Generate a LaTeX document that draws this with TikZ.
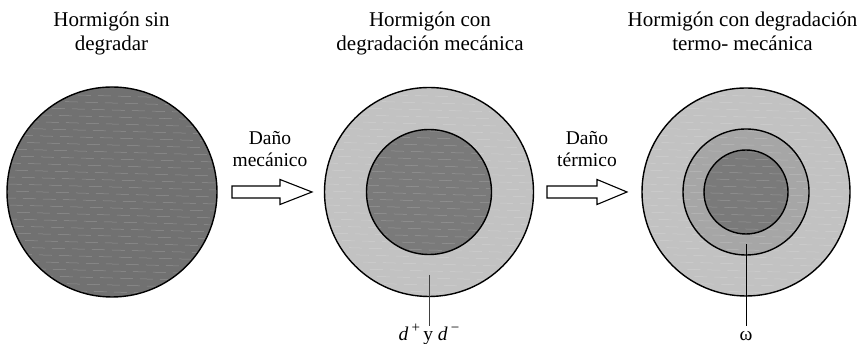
\documentclass[tikz,border=0pt]{standalone}
\usepackage{fontspec}
\setmainfont{Liberation Serif}
\definecolor{darkfill}{HTML}{717171}
\definecolor{lightfill}{HTML}{C2C2C2}
\definecolor{midfill}{HTML}{A6A6A6}
\definecolor{innerfill}{HTML}{7A7A7A}
\definecolor{ptrgray}{HTML}{404040}
\tikzset{
  disc/.style={circle, draw=black, line width=1.4pt, inner sep=0pt, minimum size=#1},
  titletext/.style={font=\fontsize{21}{24}\selectfont, anchor=base, inner sep=0pt},
  dmgtext/.style={font=\fontsize{19.5}{22}\selectfont, anchor=base, inner sep=0pt},
  blockarrow/.style={draw=black, line width=1.1pt, fill=white, line join=miter},
  pointer/.style={draw=#1, line width=0.9pt},
  ptrlabel/.style={font=\fontsize{19.5}{22}\selectfont, anchor=base, inner sep=0pt, text height=15pt},
  streak/.style={white, opacity=0.22, line width=0.5pt},
}
\newcommand{\mystreaks}[3]{%
  \begin{scope}
    \clip (#1,#2) circle (#3);
    \foreach \k [count=\n] in {-104,-97,...,104}
      \draw[streak, dash pattern=on 13pt off 7pt, dash phase={mod(\n*7,20)}] ({#1-#3},{#2+\k}) -- ({#1+#3},{#2+\k-6});
  \end{scope}}
\newcommand{\supsign}[1]{\raisebox{0.42em}{\fontsize{15}{15}\selectfont #1}}
\begin{document}
\begin{tikzpicture}[x=1pt,y=1pt]
\useasboundingbox (0,0) rectangle (866,344);
% fills
\fill[darkfill] (112,152) circle (105);
\fill[lightfill] (429,152) circle (104.5);
\fill[innerfill] (429,152) circle (62.5);
\fill[lightfill] (746,152) circle (104);
\fill[midfill] (746,152) circle (63);
\fill[innerfill] (746,152) circle (42);
\mystreaks{112}{152}{104}
\mystreaks{429}{152}{104}
\mystreaks{746}{152}{103.5}
% outlines
\node[disc=210pt] (c1) at (112,152) {};
\node[disc=209pt] (c2o) at (429,152) {};
\node[disc=125pt] (c2i) at (429,152) {};
\node[disc=208pt] (c3o) at (746,152) {};
\node[disc=126pt] (c3m) at (746,152) {};
\node[disc=84pt] (c3i) at (746,152) {};
% titles
\node[titletext] (t1a) at (111.5,317) {Hormigón sin};
\node[titletext] (t1b) at (111.5,293) {degradar};
\node[titletext] (t2a) at (430,317) {Hormigón con};
\node[titletext] (t2b) at (430,293) {degradación mecánica};
\node[titletext] (t3a) at (742.5,317) {Hormigón con degradación};
\node[titletext] (t3b) at (742.5,293) {termo- mecánica};
% damage labels
\node[dmgtext] (m1) at (270,199) {Daño};
\node[dmgtext] (m2) at (270,177) {mecánico};
\node[dmgtext] (h1) at (587,199) {Daño};
\node[dmgtext] (h2) at (587,177) {térmico};
% block arrows
\coordinate (a1) at (232,152);
\coordinate (a2) at (547,152);
\draw[blockarrow] (a1) ++(0,6) -- ++(48,0) -- ++(0,6.5) -- ++(32,-12.5) -- ++(-32,-12.5) -- ++(0,6.5) -- ++(-48,0) -- cycle;
\draw[blockarrow] (a2) ++(0,6) -- ++(50,0) -- ++(0,6.5) -- ++(30,-12.5) -- ++(-30,-12.5) -- ++(0,6.5) -- ++(-50,0) -- cycle;
% pointers
\coordinate (p2) at (429,69);
\coordinate (p3) at (746,100);
\node[ptrlabel] (l2) at (429,3) {\textit{d}\,\supsign{+}\,y \textit{d}\,\supsign{−}};
\node[ptrlabel] (l3) at (746,3) {ω};
\draw[pointer=ptrgray] (p2) -- (l2.north);
\draw[pointer=black] (p3) -- (l3.north);
\end{tikzpicture}
\end{document}
